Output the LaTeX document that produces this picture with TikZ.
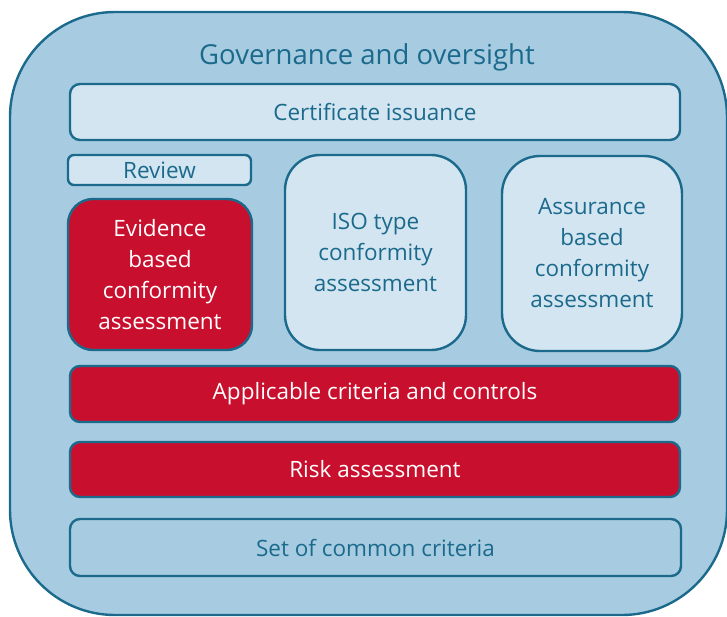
\documentclass[tikz,border=0pt]{standalone}
\usepackage{fontspec}
\setmainfont{Open Sans}
\definecolor{govblue}{HTML}{A7CCE2}
\definecolor{paleblue}{HTML}{D3E5F1}
\definecolor{edgeblue}{HTML}{1B6A8C}
\definecolor{evired}{HTML}{C8102E}

\begin{document}
\begin{tikzpicture}[x=1pt, y=-1pt,
	box/.style={draw=edgeblue, line width=2.4pt, rounded corners=10pt, inner sep=0pt,
		align=center, text=edgeblue, font=\fontsize{22.5}{31}\selectfont},
	palebox/.style={box, fill=paleblue},
	redbox/.style={box, fill=evired, text=white}]
	\useasboundingbox (0,0) rectangle (727,616);
	% outer frame
	\draw[draw=edgeblue, fill=govblue, line width=2.4pt, rounded corners=105pt] (10,12) rectangle (727,615);
	\node[text=edgeblue, font=\fontsize{27.5}{32}\selectfont] (gov) at (367,57) {Governance and oversight};
	% top row
	\node[palebox, minimum width=610pt, minimum height=56pt] (cert) at (375,112) {Certificate issuance};
	\node[palebox, rounded corners=6pt, minimum width=183pt, minimum height=30pt] (review) at (159.5,170) {Review};
	% the three assessment routes
	\node[redbox, rounded corners=25pt, minimum width=184pt, minimum height=151pt] (evidence) at (160,274.5) {Evidence\\based\\conformity\\assessment};
	\node[palebox, rounded corners=35pt, minimum width=181pt, minimum height=195pt] (iso) at (375.5,252.5) {ISO type\\conformity\\assessment};
	\node[palebox, rounded corners=38pt, minimum width=180pt, minimum height=195pt] (assurance) at (592,253.5) {Assurance\\based\\conformity\\assessment};
	% base layers
	\node[redbox, minimum width=610pt, minimum height=56pt] (criteria) at (375,394) {Applicable criteria and controls};
	\node[redbox, minimum width=610pt, minimum height=55pt] (risk) at (375,469.5) {Risk assessment};
	\node[box, minimum width=611pt, minimum height=57pt] (common) at (375.5,547.5) {Set of common criteria};
\end{tikzpicture}
\end{document}
